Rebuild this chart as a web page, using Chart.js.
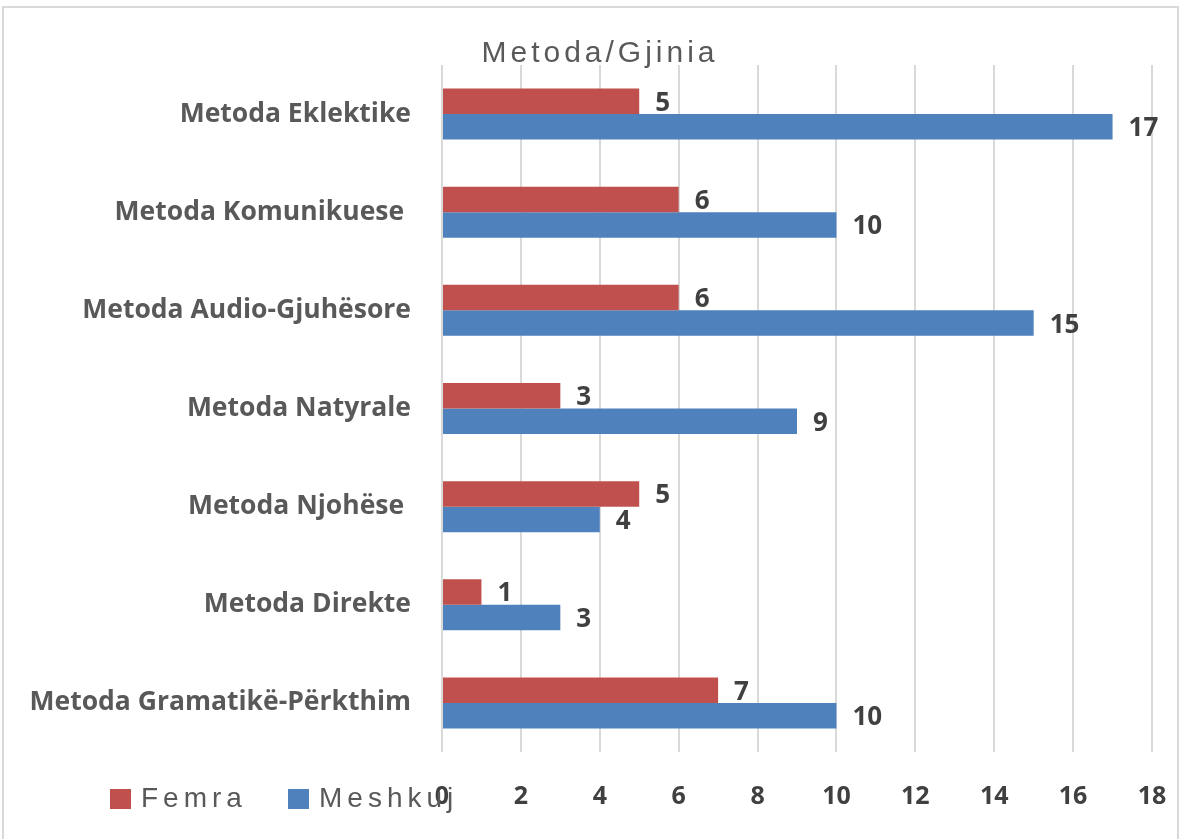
<!DOCTYPE html>
<html>
<head>
<meta charset="utf-8">
<script src="https://cdn.jsdelivr.net/npm/chart.js@4.4.1/dist/chart.umd.min.js"></script>
<style>
  html, body { margin: 0; padding: 0; background: #fff; }
  #wrap { width: 1184px; height: 839px; }
</style>
</head>
<body>
<div id="wrap"><canvas id="chart" width="1184" height="839"></canvas></div>
<script>
var categories = [
  'Metoda Eklektike',
  'Metoda Komunikuese ',
  'Metoda Audio-Gjuhësore',
  'Metoda Natyrale',
  'Metoda Njohëse ',
  'Metoda Direkte',
  'Metoda Gramatikë-Përkthim'
];
var femra = [5, 6, 6, 3, 5, 1, 7];
var meshkuj = [17, 10, 15, 9, 4, 3, 10];
var xTicks = [0, 2, 4, 6, 8, 10, 12, 14, 16, 18];

var red = '#C0504D', blue = '#4F81BD';

// value labels at the end of each bar
var valueLabels = {
  id: 'valueLabels',
  afterDatasetsDraw: function(chart) {
    var ctx = chart.ctx;
    ctx.save();
    ctx.font = 'bold 26px "Open Sans"';
    ctx.fillStyle = '#404040';
    ctx.textAlign = 'left';
    ctx.textBaseline = 'middle';
    chart.data.datasets.forEach(function(ds, i) {
      chart.getDatasetMeta(i).data.forEach(function(bar, j) {
        ctx.fillText(ds.data[j], bar.x + 16, bar.y + 2);
      });
    });
    ctx.restore();
  }
};

// frame + legend drawn in Excel-like spot (overlapping axis row)
var frameLegend = {
  id: 'frameLegend',
  beforeDraw: function(chart) {
    var ctx = chart.ctx;
    ctx.save();
    ctx.strokeStyle = '#d9d9d9';
    ctx.lineWidth = 2;
    ctx.strokeRect(3, 7, 1175, 845);
    ctx.restore();
  },
  afterDraw: function(chart) {
    var ctx = chart.ctx;
    var xs = [110, 288];
    ctx.save();
    ctx.font = '28px "Liberation Sans"';
    ctx.letterSpacing = '5px';
    ctx.textBaseline = 'middle';
    ctx.textAlign = 'left';
    chart.data.datasets.forEach(function(ds, i) {
      ctx.fillStyle = ds.backgroundColor;
      ctx.fillRect(xs[i], 789, 21, 20);
      ctx.fillStyle = '#595959';
      ctx.fillText(ds.label, xs[i] + 31, 799);
    });
    ctx.restore();
  }
};

var ctx = document.getElementById('chart').getContext('2d');
var chart = new Chart(ctx, {
  type: 'bar',
  data: {
    labels: categories,
    datasets: [
      { label: 'Femra', data: femra, backgroundColor: red },
      { label: 'Meshkuj', data: meshkuj, backgroundColor: blue }
    ]
  },
  options: {
    indexAxis: 'y',
    responsive: false,
    animation: false,
    categoryPercentage: 0.52,
    barPercentage: 1,
    layout: { padding: { left: 0, right: 32, top: 0, bottom: -3 } },
    plugins: {
      legend: { display: false },
      tooltip: { enabled: false },
      title: {
        display: true,
        text: 'Metoda/Gjinia',
        color: '#595959',
        font: { family: '"Liberation Sans"', size: 30, weight: 'normal', lineHeight: 1 },
        padding: { top: 39, bottom: -4 }
      }
    },
    scales: {
      x: {
        min: 0,
        max: 18,
        afterBuildTicks: function(s) {
          s.ticks = xTicks.map(function(v) { return { value: v }; });
        },
        afterFit: function(s) { s.paddingRight = 0; },
        grid: { color: '#d9d9d9', lineWidth: 2, drawTicks: false },
        border: { display: false },
        ticks: {
          padding: 30,
          color: '#404040',
          font: { family: '"Open Sans"', size: 25, weight: 'bold' }
        }
      },
      y: {
        grid: { display: false },
        border: { display: false },
        afterFit: function(s) { s.width = 442; },
        ticks: {
          padding: 23,
          color: '#595959',
          font: { family: '"Open Sans"', size: 26.5, weight: 'bold' }
        }
      }
    }
  },
  plugins: [valueLabels, frameLegend]
});

// title in the picture is letter-spaced and sits a bit right of centre
var tb = chart.titleBlock;
var origDraw = tb.draw;
tb.draw = function() {
  this.ctx.save();
  this.ctx.letterSpacing = '4px';
  this.ctx.translate(24, 0);
  origDraw.apply(this, arguments);
  this.ctx.restore();
};
chart.draw();
</script>
</body>
</html>
